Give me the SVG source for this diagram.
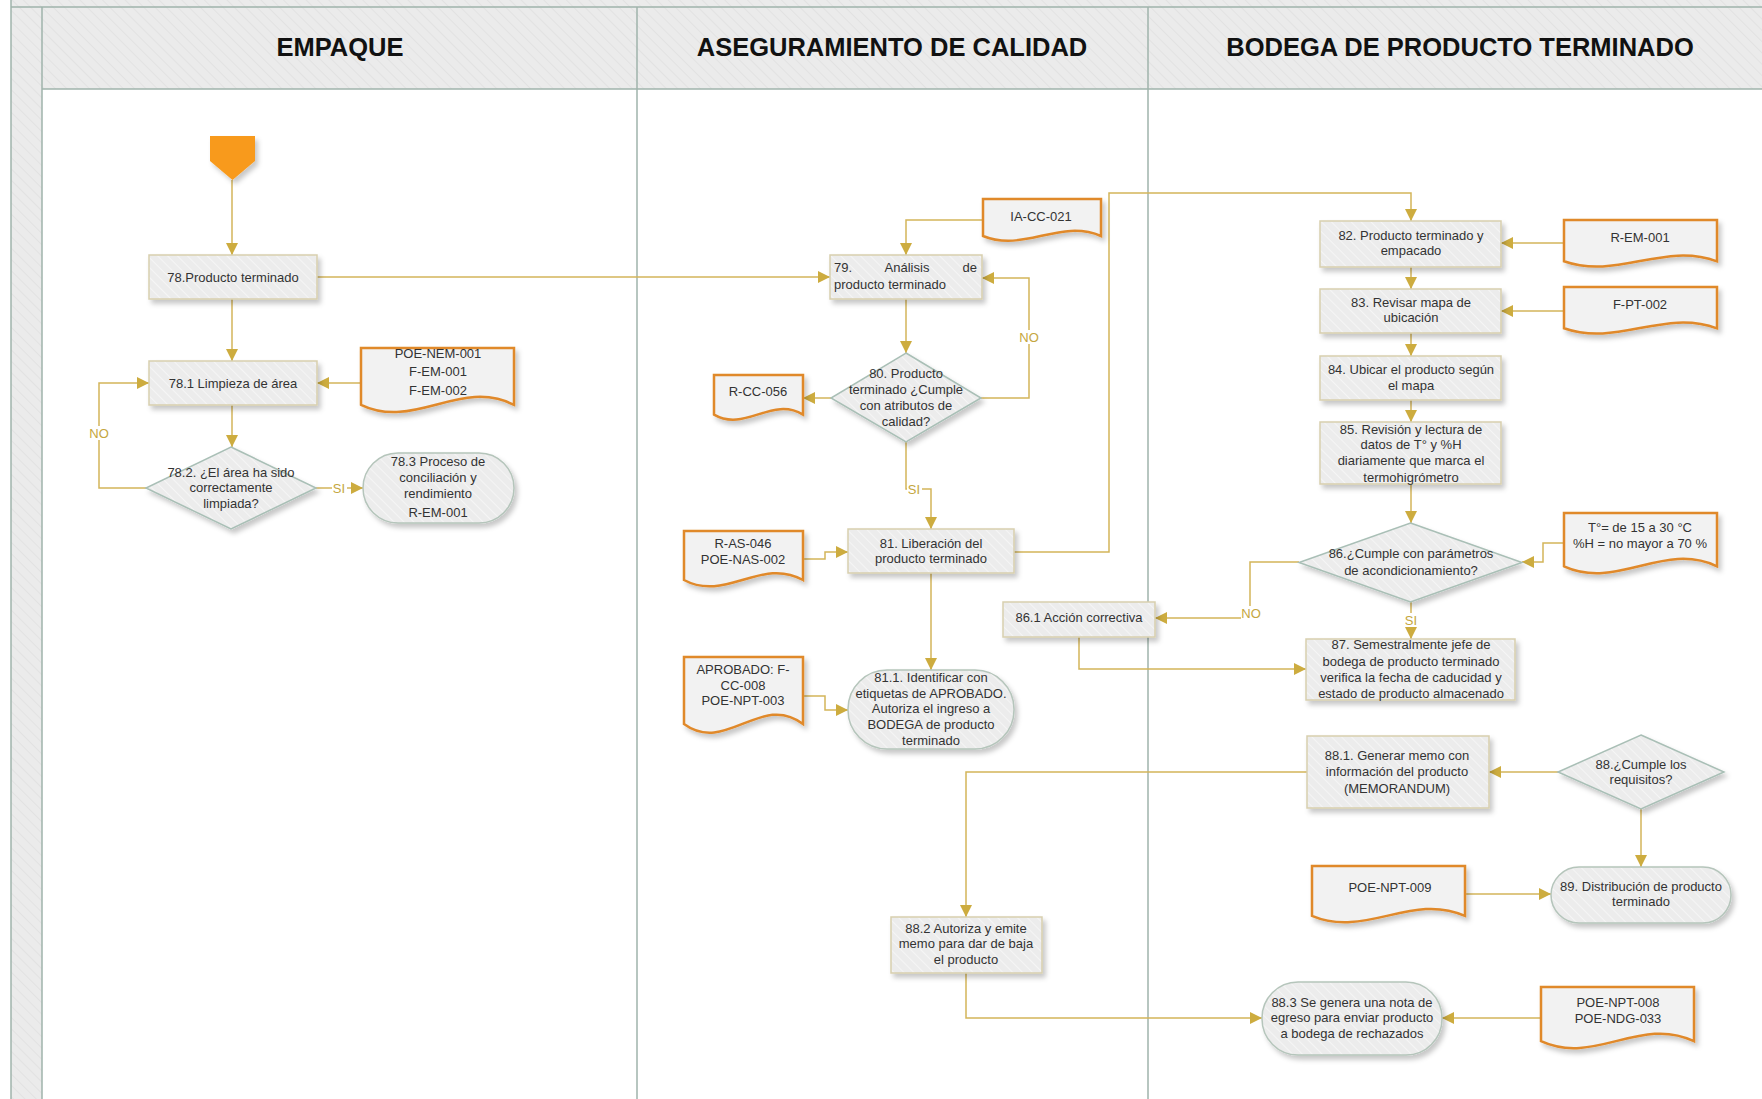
<svg xmlns="http://www.w3.org/2000/svg" width="1762" height="1099" viewBox="0 0 1762 1099">
<defs>
<pattern id="hh" width="8" height="8" patternUnits="userSpaceOnUse" patternTransform="rotate(-45)"><rect width="8" height="8" fill="#ebebeb"/><line x1="0" y1="0" x2="0" y2="8" stroke="#e2e2e2" stroke-width="2"/></pattern>
<pattern id="hn" width="7" height="7" patternUnits="userSpaceOnUse" patternTransform="rotate(-45)"><rect width="7" height="7" fill="#ececec"/><line x1="0" y1="0" x2="0" y2="7" stroke="#f5f5f5" stroke-width="2"/></pattern>
<filter id="sh" x="-20%" y="-20%" width="150%" height="160%"><feDropShadow dx="3" dy="4" stdDeviation="2.5" flood-color="#000" flood-opacity="0.22"/></filter>
<marker id="arr" markerUnits="userSpaceOnUse" markerWidth="12" markerHeight="12" refX="12" refY="6" orient="auto"><path d="M0,0 L12,6 L0,12 Z" fill="#cdac3f"/></marker>
<style>
.box{fill:url(#hn);stroke:#d8cfae;stroke-width:1.5;filter:url(#sh)}
.dia{fill:url(#hn);stroke:#a9bfb6;stroke-width:1.5;filter:url(#sh)}
.stad{fill:url(#hn);stroke:#b5c5bb;stroke-width:1.5;filter:url(#sh)}
.doc{fill:#f2f2f2;stroke:#e0892b;stroke-width:2.5;filter:url(#sh)}
.conn{fill:none;stroke:#d3b55a;stroke-width:1.5;marker-end:url(#arr)}
.ln{fill:none;stroke:#9fb3ab;stroke-width:1.5}
.t{font-family:"Liberation Sans",Arial,sans-serif;font-size:13px;fill:#333;text-anchor:middle}
.lbl{font-family:"Liberation Sans",Arial,sans-serif;font-size:13px;fill:#c4a640;text-anchor:middle}
.hdr{font-family:"Liberation Sans",Arial,sans-serif;font-weight:bold;font-size:25.5px;fill:#111;text-anchor:middle}
</style>
</defs>
<rect width="1762" height="1099" fill="#ffffff"/>
<g id="pool">
<rect x="11" y="-10" width="1760" height="1120" fill="url(#hh)"/>
<rect x="42" y="89" width="1730" height="1020" fill="#ffffff"/>
<line class="ln" x1="11" y1="-5" x2="11" y2="1099"/>
<line class="ln" x1="42" y1="7" x2="42" y2="1099"/>
<line class="ln" x1="11" y1="7" x2="1762" y2="7"/>
<line class="ln" x1="42" y1="89" x2="1762" y2="89"/>
<line class="ln" x1="637" y1="7" x2="637" y2="1099"/>
<line class="ln" x1="1148" y1="7" x2="1148" y2="1099"/>
<text class="hdr" x="340" y="56">EMPAQUE</text>
<text class="hdr" x="892" y="56">ASEGURAMIENTO DE CALIDAD</text>
<text class="hdr" x="1460" y="56">BODEGA DE PRODUCTO TERMINADO</text>
</g>
<g id="connectors">
<polyline class="conn" points="232,180 232,255"/>
<polyline class="conn" points="317,277 830,277"/>
<polyline class="conn" points="232,299 232,361"/>
<polyline class="conn" points="361,383 317,383"/>
<polyline class="conn" points="232,405 232,447"/>
<polyline class="conn" points="146,488 99,488 99,383 149,383"/>
<polyline class="conn" points="316,488 363,488"/>
<polyline class="conn" points="983,220 906,220 906,255"/>
<polyline class="conn" points="906,299 906,353"/>
<polyline class="conn" points="831,398 803,398"/>
<polyline class="conn" points="981,398 1029,398 1029,278 982,278"/>
<polyline class="conn" points="906,442 906,489 931,489 931,529"/>
<polyline class="conn" points="803,559 825,559 825,552 848,552"/>
<polyline class="conn" points="1014,552 1109,552 1109,193 1411,193 1411,221"/>
<polyline class="conn" points="931,573 931,670"/>
<polyline class="conn" points="803,696 825,696 825,710 848,710"/>
<polyline class="conn" points="1564,243 1501,243"/>
<polyline class="conn" points="1411,267 1411,289"/>
<polyline class="conn" points="1564,311 1501,311"/>
<polyline class="conn" points="1411,333 1411,356"/>
<polyline class="conn" points="1411,400 1411,422"/>
<polyline class="conn" points="1411,484 1411,523"/>
<polyline class="conn" points="1564,543 1543,543 1543,562 1522,562"/>
<polyline class="conn" points="1299,562 1250,562 1250,618 1155,618"/>
<polyline class="conn" points="1411,602 1411,639"/>
<polyline class="conn" points="1079,637 1079,669 1306,669"/>
<polyline class="conn" points="1558,772 1489,772"/>
<polyline class="conn" points="1307,772 966,772 966,917"/>
<polyline class="conn" points="1641,809 1641,867"/>
<polyline class="conn" points="1465,894 1551,894"/>
<polyline class="conn" points="966,973 966,1018 1262,1018"/>
<polyline class="conn" points="1541,1018 1442,1018"/>
<rect x="89" y="426" width="20" height="14" fill="#fff"/><text class="lbl" x="99" y="438">NO</text>
<rect x="332" y="481" width="15" height="14" fill="#fff"/><text class="lbl" x="339" y="493">SI</text>
<rect x="1019" y="330" width="20" height="14" fill="#fff"/><text class="lbl" x="1029" y="342">NO</text>
<rect x="907" y="482" width="15" height="14" fill="#fff"/><text class="lbl" x="914" y="494">SI</text>
<rect x="1241" y="606" width="21" height="14" fill="#fff"/><text class="lbl" x="1251" y="618">NO</text>
<rect x="1404" y="613" width="14" height="14" fill="#fff"/><text class="lbl" x="1411" y="625">SI</text>
</g>
<g id="start"><path d="M210,136 H255 V161 L232.5,180 L210,161 Z" fill="#f89a1c" filter="url(#sh)"/></g>
<g id="n78"><rect class="box" x="149" y="255" width="168" height="44"/><text class="t" x="233" y="281.5">78.Producto terminado</text></g>
<g id="n78_1"><rect class="box" x="149" y="361" width="168" height="44"/><text class="t" x="233" y="387.5">78.1 Limpieza de área</text></g>
<g id="d_poe_nem"><path class="doc" d="M361,348 H514 V404.8 C460.5,377.7 414.6,430.5 361,404.8 Z"/><text class="t" x="438" y="357.5">POE-NEM-001</text><text class="t" x="438" y="375.5">F-EM-001</text><text class="t" x="438" y="394.5">F-EM-002</text></g>
<g id="n78_2"><polygon class="dia" points="231,447 316,488 231,529 146,488"/><text class="t" x="231" y="476.5">78.2. ¿El área ha sido</text><text class="t" x="231" y="491.5">correctamente</text><text class="t" x="231" y="507.5">limpiada?</text></g>
<g id="n78_3"><rect class="stad" x="363" y="453" width="151" height="70" rx="35" ry="35"/><text class="t" x="438" y="465.5">78.3 Proceso de</text><text class="t" x="438" y="481.5">conciliación y</text><text class="t" x="438" y="497.5">rendimiento</text><text class="t" x="438" y="516.5">R-EM-001</text></g>
<g id="d_ia_cc"><path class="doc" d="M983,199 H1101 V236 C1059.7,218.4 1024.3,252.8 983,236 Z"/><text class="t" x="1041" y="220.5">IA-CC-021</text></g>
<g id="n79"><rect class="box" x="830" y="255" width="152" height="44"/><text class="t" x="834" y="271.5" style="text-anchor:start">79.</text><text class="t" x="907" y="271.5">Análisis</text><text class="t" x="977" y="271.5" style="text-anchor:end">de</text><text class="t" x="834" y="288.5" style="text-anchor:start">producto terminado</text></g>
<g id="n80"><polygon class="dia" points="906,353 981,398 906,442 831,398"/><text class="t" x="906" y="377.5">80. Producto</text><text class="t" x="906" y="393.5">terminado ¿Cumple</text><text class="t" x="906" y="409.5">con atributos de</text><text class="t" x="906" y="425.5">calidad?</text></g>
<g id="d_rcc056"><path class="doc" d="M714,375 H803 V414.6 C771.9,395.7 745.2,432.5 714,414.6 Z"/><text class="t" x="758" y="395.5">R-CC-056</text></g>
<g id="d_ras046"><path class="doc" d="M684,531 H803 V580 C761.4,556.7 725.7,602.3 684,580 Z"/><text class="t" x="743" y="547.5">R-AS-046</text><text class="t" x="743" y="563.5">POE-NAS-002</text></g>
<g id="n81"><rect class="box" x="848" y="529" width="166" height="44"/><text class="t" x="931" y="547.5">81. Liberación del</text><text class="t" x="931" y="562.5">producto terminado</text></g>
<g id="d_aprobado"><path class="doc" d="M684,657 H803 V724 C761.4,692.1 725.7,754.5 684,724 Z"/><text class="t" x="743" y="673.5">APROBADO: F-</text><text class="t" x="743" y="689.5">CC-008</text><text class="t" x="743" y="704.5">POE-NPT-003</text></g>
<g id="n81_1"><rect class="stad" x="848" y="670" width="166" height="79" rx="39" ry="39"/><text class="t" x="931" y="681.5">81.1. Identificar con</text><text class="t" x="931" y="697.5">etiquetas de APROBADO.</text><text class="t" x="931" y="712.5">Autoriza el ingreso a</text><text class="t" x="931" y="728.5">BODEGA de producto</text><text class="t" x="931" y="744.5">terminado</text></g>
<g id="n86_1"><rect class="box" x="1003" y="602" width="152" height="35"/><text class="t" x="1079" y="621.5">86.1 Acción correctiva</text></g>
<g id="n82"><rect class="box" x="1320" y="221" width="181" height="46"/><text class="t" x="1411" y="239.5">82. Producto terminado y</text><text class="t" x="1411" y="254.5">empacado</text></g>
<g id="d_rem001"><path class="doc" d="M1564,220 H1717 V261.3 C1663.5,241.6 1617.6,280 1564,261.3 Z"/><text class="t" x="1640" y="241.5">R-EM-001</text></g>
<g id="n83"><rect class="box" x="1320" y="289" width="181" height="44"/><text class="t" x="1411" y="306.5">83. Revisar mapa de</text><text class="t" x="1411" y="321.5">ubicación</text></g>
<g id="d_fpt002"><path class="doc" d="M1564,287 H1717 V328.3 C1663.5,308.6 1617.6,347 1564,328.3 Z"/><text class="t" x="1640" y="308.5">F-PT-002</text></g>
<g id="n84"><rect class="box" x="1320" y="356" width="181" height="44"/><text class="t" x="1411" y="373.5">84. Ubicar el producto según</text><text class="t" x="1411" y="389.5">el mapa</text></g>
<g id="n85"><rect class="box" x="1320" y="422" width="181" height="62"/><text class="t" x="1411" y="433.5">85. Revisión y lectura de</text><text class="t" x="1411" y="448.5">datos de T° y %H</text><text class="t" x="1411" y="464.5">diariamente que marca el</text><text class="t" x="1411" y="481.5">termohigrómetro</text></g>
<g id="n86"><polygon class="dia" points="1410.5,523 1522,562.5 1410.5,602 1299,562.5"/><text class="t" x="1411" y="557.5">86.¿Cumple con parámetros</text><text class="t" x="1411" y="574.5">de acondicionamiento?</text></g>
<g id="d_temp"><path class="doc" d="M1564,513 H1717 V566.3 C1663.5,540.9 1617.6,590.5 1564,566.3 Z"/><text class="t" x="1640" y="531.5">T°= de 15 a 30 °C</text><text class="t" x="1640" y="547.5">%H = no mayor a 70 %</text></g>
<g id="n87"><rect class="box" x="1306" y="639" width="209" height="61"/><text class="t" x="1411" y="648.5">87. Semestralmente jefe de</text><text class="t" x="1411" y="665.5">bodega de producto terminado</text><text class="t" x="1411" y="681.5">verifica la fecha de caducidad y</text><text class="t" x="1411" y="697.5">estado de producto almacenado</text></g>
<g id="n88_1"><rect class="box" x="1307" y="736" width="182" height="72"/><text class="t" x="1397" y="759.5">88.1. Generar memo con</text><text class="t" x="1397" y="775.5">información del producto</text><text class="t" x="1397" y="792.5">(MEMORANDUM)</text></g>
<g id="n88"><polygon class="dia" points="1641,735 1724,772 1641,809 1558,772"/><text class="t" x="1641" y="768.5">88.¿Cumple los</text><text class="t" x="1641" y="783.5">requisitos?</text></g>
<g id="d_npt009"><path class="doc" d="M1312,866 H1465 V915.9 C1411.5,892.1 1365.6,938.5 1312,915.9 Z"/><text class="t" x="1390" y="891.5">POE-NPT-009</text></g>
<g id="n89"><rect class="stad" x="1551" y="867" width="180" height="56" rx="28" ry="28"/><text class="t" x="1641" y="890.5">89. Distribución de producto</text><text class="t" x="1641" y="905.5">terminado</text></g>
<g id="n88_2"><rect class="box" x="891" y="917" width="151" height="56"/><text class="t" x="966" y="932.5">88.2 Autoriza y emite</text><text class="t" x="966" y="947.5">memo para dar de baja</text><text class="t" x="966" y="963.5">el producto</text></g>
<g id="n88_3"><rect class="stad" x="1262" y="982" width="180" height="73" rx="36" ry="36"/><text class="t" x="1352" y="1006.5">88.3 Se genera una nota de</text><text class="t" x="1352" y="1021.5">egreso para enviar producto</text><text class="t" x="1352" y="1037.5">a bodega de rechazados</text></g>
<g id="d_npt008"><path class="doc" d="M1541,987 H1694 V1041.2 C1640.5,1015.4 1594.6,1065.8 1541,1041.2 Z"/><text class="t" x="1618" y="1006.5">POE-NPT-008</text><text class="t" x="1618" y="1022.5">POE-NDG-033</text></g>
</svg>
